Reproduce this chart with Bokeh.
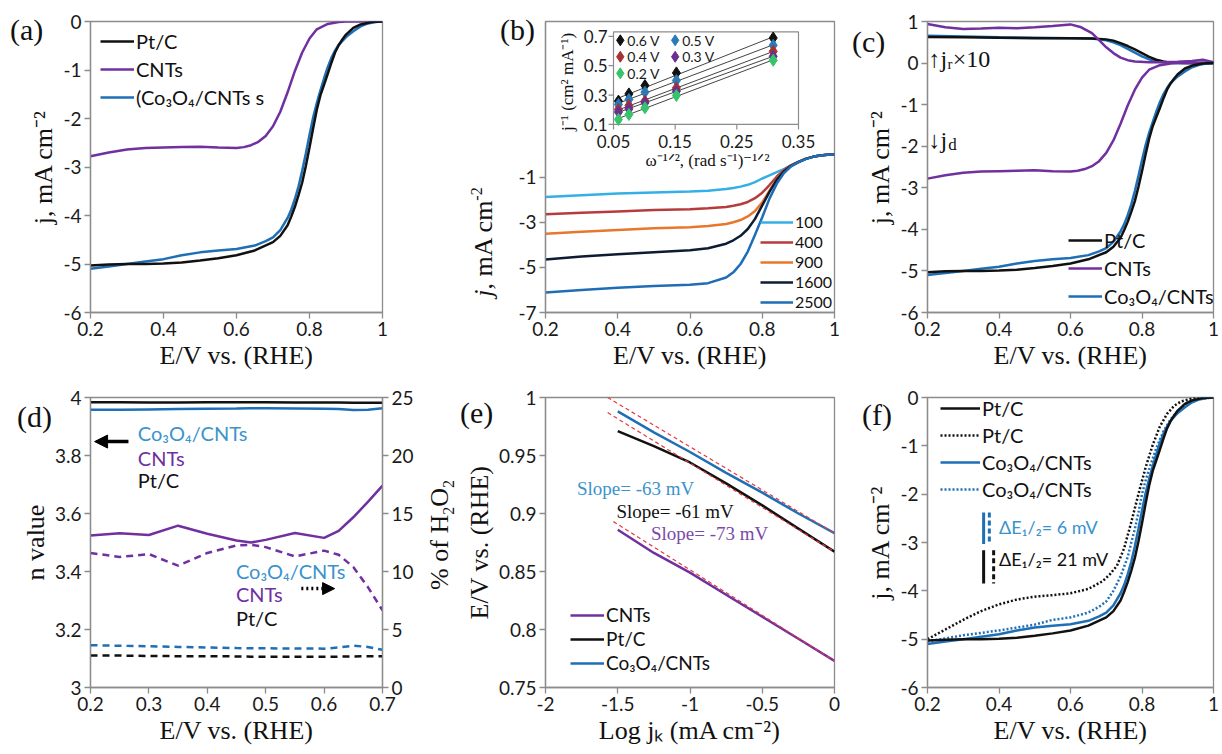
import numpy as np
from bokeh.plotting import figure
from bokeh.models import (Legend, LegendItem, Label, LinearAxis, Range1d, FixedTicker,
                          Arrow, NormalHead, CustomJSTickFormatter, GridBox, Div)
from bokeh.embed import file_html
from bokeh.resources import INLINE
from bokeh.core.properties import value

# ======================= DATA =======================
# (a), (c), (f): disk current density (mA cm-2) vs E (V vs RHE)
E_pt = [0.20, 0.25, 0.30, 0.35, 0.40, 0.45, 0.50, 0.55, 0.60, 0.65, 0.70, 0.72, 0.74, 0.75, 0.76, 0.77,
        0.78, 0.79, 0.80, 0.81, 0.82, 0.83, 0.84, 0.85, 0.86, 0.87, 0.88, 0.89, 0.90, 0.92, 0.94, 0.97, 1.00]
j_pt = [-5.03, -5.01, -5.00, -5.00, -4.99, -4.97, -4.93, -4.88, -4.82, -4.72, -4.55, -4.42, -4.20, -4.02,
        -3.82, -3.58, -3.32, -2.98, -2.60, -2.20, -1.82, -1.52, -1.30, -1.08, -0.85, -0.64, -0.49, -0.37,
        -0.27, -0.13, -0.06, -0.01, 0.00]
E_co = [0.20, 0.25, 0.30, 0.35, 0.40, 0.45, 0.50, 0.55, 0.60, 0.65, 0.68, 0.70, 0.72, 0.74, 0.75, 0.76,
        0.77, 0.78, 0.79, 0.80, 0.81, 0.82, 0.83, 0.84, 0.85, 0.86, 0.87, 0.88, 0.90, 0.92, 0.94, 0.96,
        0.98, 1.00]
j_co = [-5.10, -5.05, -5.00, -4.95, -4.90, -4.82, -4.76, -4.72, -4.69, -4.62, -4.53, -4.45, -4.30, -4.05,
        -3.88, -3.66, -3.40, -3.08, -2.72, -2.34, -1.98, -1.68, -1.42, -1.17, -0.94, -0.75, -0.60, -0.48,
        -0.32, -0.20, -0.10, -0.04, -0.01, 0.00]
E_cnt = [0.20, 0.25, 0.30, 0.35, 0.40, 0.45, 0.50, 0.55, 0.60, 0.62, 0.64, 0.66, 0.68, 0.70, 0.72, 0.74,
         0.76, 0.78, 0.80, 0.82, 0.85, 0.88, 0.90, 0.95, 1.00]
j_cnt = [-2.78, -2.70, -2.64, -2.61, -2.60, -2.59, -2.58, -2.60, -2.61, -2.59, -2.55, -2.48, -2.36, -2.16,
         -1.86, -1.46, -1.02, -0.64, -0.35, -0.16, -0.05, -0.01, 0.00, 0.00, 0.00]

# (c): ring current x10
Er = [0.20, 0.30, 0.40, 0.50, 0.60, 0.66, 0.70, 0.72, 0.74, 0.76, 0.78, 0.80, 0.82, 0.84, 0.86, 0.88, 0.92, 1.00]
jr_pt = [0.63, 0.62, 0.61, 0.60, 0.60, 0.59, 0.57, 0.54, 0.48, 0.41, 0.33, 0.24, 0.15, 0.08, 0.04, 0.01, 0.00, 0.00]
jr_co = [0.66, 0.64, 0.62, 0.61, 0.60, 0.59, 0.55, 0.50, 0.43, 0.34, 0.25, 0.16, 0.09, 0.04, 0.02, 0.01, 0.00, 0.00]
Er_cnt = [0.20, 0.25, 0.30, 0.35, 0.40, 0.45, 0.50, 0.55, 0.60, 0.63, 0.66, 0.68, 0.70, 0.72, 0.74, 0.76,
          0.78, 0.82, 0.86, 0.90, 0.94, 0.97, 1.00]
jr_cnt = [0.94, 0.86, 0.82, 0.83, 0.85, 0.84, 0.86, 0.89, 0.93, 0.86, 0.72, 0.55, 0.38, 0.24, 0.13, 0.07,
          0.04, 0.02, 0.02, 0.03, 0.05, 0.08, 0.02]

# (b): rotating speeds (rpm)
E_rde = [0.20, 0.30, 0.40, 0.50, 0.60, 0.65, 0.70, 0.72, 0.74, 0.76, 0.78, 0.80, 0.82, 0.84, 0.86, 0.88,
         0.90, 0.92, 0.94, 0.96, 0.98, 1.00]
rpm_labels = ["100", "400", "900", "1600", "2500"]
j_100 = [-1.88, -1.80, -1.73, -1.68, -1.64, -1.60, -1.53, -1.48, -1.42, -1.34, -1.22, -1.06, -0.92, -0.78,
         -0.64, -0.47, -0.32, -0.19, -0.10, -0.04, -0.01, 0.00]
j_400 = [-2.64, -2.58, -2.52, -2.46, -2.42, -2.38, -2.32, -2.27, -2.20, -2.10, -1.93, -1.69, -1.35, -0.98,
         -0.68, -0.48, -0.32, -0.19, -0.10, -0.04, -0.01, 0.00]
j_900 = [-3.51, -3.42, -3.34, -3.27, -3.22, -3.17, -3.08, -3.00, -2.90, -2.74, -2.50, -2.12, -1.60, -1.10,
         -0.72, -0.49, -0.32, -0.19, -0.10, -0.04, -0.01, 0.00]
j_1600 = [-4.65, -4.52, -4.42, -4.33, -4.24, -4.15, -3.95, -3.80, -3.60, -3.30, -2.85, -2.25, -1.65, -1.12,
          -0.74, -0.50, -0.33, -0.19, -0.10, -0.04, -0.01, 0.00]
j_2500 = [-6.11, -6.00, -5.90, -5.83, -5.77, -5.70, -5.45, -5.22, -4.85, -4.30, -3.55, -2.78, -1.95, -1.30,
          -0.82, -0.52, -0.34, -0.20, -0.10, -0.04, -0.01, 0.00]

# (b) inset: Koutecky-Levich
w_inv = [0.058, 0.075, 0.101, 0.152, 0.309]
kl_labels = ["0.6 V", "0.5 V", "0.4 V", "0.3 V", "0.2 V"]
kl_06 = [0.259, 0.308, 0.365, 0.451, 0.689]
kl_05 = [0.236, 0.270, 0.320, 0.399, 0.639]
kl_04 = [0.202, 0.229, 0.259, 0.349, 0.598]
kl_03 = [0.184, 0.206, 0.247, 0.326, 0.564]
kl_02 = [0.134, 0.168, 0.213, 0.297, 0.537]
inset_xticks = [0.05, 0.15, 0.25, 0.35]
inset_xtick_labels = ["0.05", "0.15", "0.25", "0.35"]
inset_yticks = [0.1, 0.3, 0.5, 0.7]
inset_ytick_labels = ["0.1", "0.3", "0.5", "0.7"]

# (d): electron transfer number and % H2O2
E_n = [0.20, 0.25, 0.30, 0.35, 0.40, 0.45, 0.475, 0.50, 0.55, 0.60, 0.625, 0.65, 0.675, 0.70]
n_pt = [3.984, 3.984, 3.983, 3.983, 3.984, 3.984, 3.984, 3.984, 3.983, 3.983, 3.983, 3.982, 3.982, 3.982]
n_co = [3.958, 3.958, 3.959, 3.960, 3.961, 3.962, 3.963, 3.963, 3.962, 3.961, 3.960, 3.957, 3.958, 3.963]
n_cnt = [3.524, 3.532, 3.526, 3.558, 3.530, 3.507, 3.500, 3.509, 3.533, 3.516, 3.540, 3.587, 3.640, 3.696]
h2o2_pt = [2.75, 2.75, 2.72, 2.70, 2.70, 2.68, 2.66, 2.66, 2.65, 2.65, 2.66, 2.68, 2.70, 2.70]
h2o2_co = [3.65, 3.60, 3.55, 3.50, 3.45, 3.40, 3.38, 3.38, 3.36, 3.35, 3.45, 3.60, 3.50, 3.25]
h2o2_cnt = [11.6, 11.25, 11.5, 10.5, 11.6, 12.24, 12.3, 12.1, 11.3, 11.8, 11.44, 10.38, 8.66, 6.65]

# (e): Tafel plots
logjk = [-1.5, -1.25, -1.0, -0.75, -0.5, -0.25, 0.0]
taf_co = [0.988, 0.970, 0.953, 0.935, 0.918, 0.900, 0.883]
taf_pt = [0.971, 0.958, 0.944, 0.926, 0.907, 0.887, 0.867]
taf_cnt = [0.886, 0.866, 0.849, 0.830, 0.811, 0.792, 0.773]
fit_x = [-1.57, 0.0]
fit_co = [1.000, 0.883]
fit_pt = [0.987, 0.867]
fit_x_cnt = [-1.53, 0.0]
fit_cnt = [0.893, 0.773]

# (f): after durability test
E_pt_adt = [0.20, 0.25, 0.30, 0.35, 0.40, 0.45, 0.50, 0.55, 0.60, 0.65, 0.69, 0.71, 0.73, 0.75, 0.77, 0.79,
            0.81, 0.83, 0.85, 0.87, 0.89, 0.91, 0.94, 0.97, 1.00]
j_pt_adt = [-5.00, -4.80, -4.60, -4.42, -4.28, -4.18, -4.12, -4.09, -4.05, -3.96, -3.80, -3.66, -3.48, -3.12,
            -2.58, -2.00, -1.45, -0.98, -0.60, -0.34, -0.17, -0.08, -0.02, 0.00, 0.00]
E_co_adt = [0.20, 0.30, 0.40, 0.50, 0.55, 0.60, 0.65, 0.68, 0.70, 0.72, 0.74, 0.76, 0.77, 0.78, 0.79, 0.80,
            0.81, 0.82, 0.84, 0.86, 0.88, 0.90, 0.93, 0.96, 1.00]
j_co_adt = [-5.05, -4.92, -4.82, -4.70, -4.60, -4.55, -4.45, -4.33, -4.22, -4.00, -3.70, -3.30, -3.00, -2.72,
            -2.38, -2.00, -1.72, -1.48, -1.05, -0.70, -0.45, -0.28, -0.12, -0.03, 0.00]

# panel tags (texts)
panel_tags = ["(a)", "(b)", "(c)", "(d)", "(e)", "(f)"]

# ======================= STYLE =======================
SANS = "Lato"
SERIF = "Liberation Serif"
FRAME = "#8c8c8c"
C_PT = "#111111"
C_CNT = "#7030a0"
C_CO = "#1f6fb6"
C_CO_TXT = "#3b93cc"
LW = 2.5
rpm_colors = ["#35b0e6", "#b63b3d", "#e8772b", "#0e1c33", "#1f6db5"]
kl_colors = ["#111111", "#2a7ab8", "#a83232", "#6a2f8f", "#35c46a"]


def style_axis(ax, ticks):
    ax.ticker = FixedTicker(ticks=ticks)
    ax.formatter = CustomJSTickFormatter(code="return (Math.round(tick*1000)/1000).toString();")
    ax.axis_line_color = FRAME
    ax.axis_line_width = 1.3
    ax.major_tick_line_color = FRAME
    ax.major_tick_line_width = 1.3
    ax.major_tick_in = 0
    ax.major_tick_out = 6
    ax.minor_tick_line_color = None
    ax.major_label_text_font = SANS
    ax.major_label_text_font_size = "19px"
    ax.major_label_text_color = "#1a1a1a"
    ax.major_label_standoff = 3
    ax.axis_label_text_font = SERIF
    ax.axis_label_text_font_size = "26px"
    ax.axis_label_text_font_style = "normal"
    ax.axis_label_text_color = "#111111"
    ax.axis_label_standoff = 2


def mkfig(w, h, xr, yr, xt, yt, bl, br, bt, bb, xlab, ylab):
    p = figure(width=w, height=h, x_range=Range1d(*xr), y_range=Range1d(*yr),
               output_backend="svg", toolbar_location=None, title=None,
               min_border_left=bl, min_border_right=br, min_border_top=bt, min_border_bottom=bb)
    p.xgrid.visible = False
    p.ygrid.visible = False
    p.outline_line_color = FRAME
    p.outline_line_width = 1.3
    style_axis(p.xaxis[0], xt)
    style_axis(p.yaxis[0], yt)
    p.xaxis[0].axis_label = xlab
    if ylab:
        p.yaxis[0].axis_label = ylab
    return p


def note(p, x, y, text, color="#111111", size="20px", font=SANS, align="left", angle=0.0):
    p.add_layout(Label(x=x, y=y, text=text, text_color=color, text_font=font, text_font_size=size,
                       text_align=align, text_baseline="middle", angle=angle))


def add_legend(p, pairs, loc, fs="20px", gw=34, spacing=4):
    items = [LegendItem(label=l, renderers=[r]) for l, r in pairs]
    lg = Legend(items=items, location=loc, label_text_font=SANS, label_text_font_size=fs,
                label_text_color="#111111", glyph_width=gw, glyph_height=14, label_height=14,
                label_standoff=2, spacing=spacing, padding=0, margin=0,
                border_line_color=None, background_fill_alpha=0)
    p.add_layout(lg)


XT = [0.2, 0.4, 0.6, 0.8, 1.0]
EX = "E/V vs. (RHE)"
JY = "j, mA cm⁻²"
W1, W2, W3 = 458, 388, 374
H1, H2 = 380, 372

# ---------------- (a) ----------------
pa = mkfig(W1, H1, (0.2, 1.0), (-6, 0), XT, [-6, -5, -4, -3, -2, -1, 0], 90, 76, 20, 67, EX, JY)
ra_cnt = pa.line(E_cnt, j_cnt, color=C_CNT, line_width=LW)
ra_co = pa.line(E_co, j_co, color=C_CO, line_width=LW)
ra_pt = pa.line(E_pt, j_pt, color=C_PT, line_width=LW)
add_legend(pa, [("Pt/C", ra_pt), ("CNTs", ra_cnt), ("(Co₃O₄/CNTs s", ra_co)], (10, 203))

# ---------------- (b) ----------------
pb = mkfig(W2, H1, (0.2, 1.0), (-7, 5.9), XT, [-7, -5, -3, -1], 87, 12, 18, 68, EX, None)
rpm_series = [j_100, j_400, j_900, j_1600, j_2500]
rb = [pb.line(E_rde, js, color=c, line_width=LW) for js, c in zip(rpm_series, rpm_colors)]
add_legend(pb, list(zip(rpm_labels, rb)), (215, 1), fs="16px", gw=33, spacing=1)

# inset (drawn on extra ranges of panel b)
FW_B, FH_B = W2 - 87 - 12, H1 - 18 - 68
IX0_PX, IX1_PX = 68, 253      # frame px of inset x = 0.05 and 0.35
IY0_PX, IY1_PX = 190, 279     # frame px (from bottom) of inset y = 0.1 and 0.7
sx = (0.35 - 0.05) / (IX1_PX - IX0_PX)
sy = (0.7 - 0.1) / (IY1_PX - IY0_PX)
pb.extra_x_ranges = {"ix": Range1d(0.05 - IX0_PX * sx, 0.05 + (FW_B - IX0_PX) * sx)}
pb.extra_y_ranges = {"iy": Range1d(0.1 - IY0_PX * sy, 0.1 + (FH_B - IY0_PX) * sy)}
IR = dict(x_range_name="ix", y_range_name="iy")
pb.quad(left=[0.05], right=[0.35], bottom=[0.1], top=[0.73], fill_color="white",
        line_color=FRAME, line_width=1.2, **IR)
n_xt, n_yt = len(inset_xticks), len(inset_yticks)
pb.segment(x0=inset_xticks, y0=[0.1] * n_xt, x1=inset_xticks, y1=[0.1 - 5 * sy] * n_xt,
           line_color=FRAME, line_width=1.2, **IR)
pb.segment(x0=[0.05] * n_yt, y0=inset_yticks, x1=[0.05 - 5 * sx] * n_yt, y1=inset_yticks,
           line_color=FRAME, line_width=1.2, **IR)
pb.text(x=inset_xticks, y=[0.1] * n_xt, text=inset_xtick_labels, y_offset=17,
        text_font=value(SANS), text_font_size=value("17px"), text_color="#1a1a1a",
        text_align="center", text_baseline="middle", **IR)
pb.text(x=[0.05] * n_yt, y=inset_yticks, text=inset_ytick_labels, x_offset=-6,
        text_font=value(SANS), text_font_size=value("17px"), text_color="#1a1a1a",
        text_align="right", text_baseline="middle", **IR)
pb.text(x=[0.2], y=[0.1], text=["ω⁻¹ᐟ², (rad s⁻¹)⁻¹ᐟ²"], y_offset=36,
        text_font=value(SERIF), text_font_size=value("17px"), text_color="#111111",
        text_align="center", text_baseline="middle", **IR)
pb.text(x=[0.05], y=[0.39], text=["j⁻¹ (cm² mA⁻¹)"], x_offset=-46, angle=np.pi / 2,
        text_font=value(SERIF), text_font_size=value("17px"), text_color="#111111",
        text_align="center", text_baseline="middle", **IR)
kl_series = [kl_06, kl_05, kl_04, kl_03, kl_02]
fx = np.array([0.055, 0.31])
for ys, c in zip(kl_series, kl_colors):
    k, b0 = np.polyfit(w_inv, ys, 1)
    pb.line(fx, k * fx + b0, line_color="#444444", line_width=1, **IR)
for ys, c in zip(kl_series, kl_colors):
    pb.scatter(w_inv, ys, marker="diamond", size=12, fill_color=c, line_color=c, **IR)
inset_leg_x = [0.061, 0.150, 0.061, 0.150, 0.061]
inset_leg_y = [0.673, 0.673, 0.561, 0.561, 0.448]
pb.scatter(inset_leg_x, inset_leg_y, marker="diamond", size=11, fill_color=kl_colors,
           line_color=kl_colors, **IR)
pb.text(x=inset_leg_x, y=inset_leg_y, text=kl_labels, x_offset=7,
        text_font=value(SANS), text_font_size=value("14px"), text_color="#1a1a1a",
        text_align="left", text_baseline="middle", **IR)

# ---------------- (c) ----------------
pc = mkfig(W3, H1, (0.2, 1.0), (-6, 1), XT, [-6, -5, -4, -3, -2, -1, 0, 1], 81, 7, 21, 67, EX, JY)
pc.line(Er, jr_co, color=C_CO, line_width=LW)
pc.line(Er, jr_pt, color=C_PT, line_width=LW)
pc.line(Er_cnt, jr_cnt, color=C_CNT, line_width=LW)
rc_cnt = pc.line(E_cnt, j_cnt, color=C_CNT, line_width=LW)
rc_co = pc.line(E_co, j_co, color=C_CO, line_width=LW)
rc_pt = pc.line(E_pt, j_pt, color=C_PT, line_width=LW)
add_legend(pc, [("Pt/C", rc_pt), ("CNTs", rc_cnt), ("Co₃O₄/CNTs", rc_co)], (141, 4))
note(pc, 0.203, 0.1, "↑jᵣ×10", size="24px", font=SERIF)
note(pc, 0.203, -1.85, "↓j", size="24px", font=SERIF)
note(pc, 0.258, -1.97, "d", size="17px", font=SERIF)

# ---------------- (d) ----------------
pd_ = mkfig(W1, H2, (0.2, 0.7), (3, 4), [0.2, 0.3, 0.4, 0.5, 0.6, 0.7],
            [3, 3.2, 3.4, 3.6, 3.8, 4], 90, 76, 17, 65, EX, "n value")
pd_.extra_y_ranges = {"pct": Range1d(0, 25)}
rax = LinearAxis(y_range_name="pct")
style_axis(rax, [0, 5, 10, 15, 20, 25])
pd_.add_layout(rax, "right")
pd_.line(E_n, n_pt, color=C_PT, line_width=LW)
pd_.line(E_n, n_co, color=C_CO, line_width=LW)
pd_.line(E_n, n_cnt, color=C_CNT, line_width=LW)
pd_.line(E_n, h2o2_pt, color=C_PT, line_width=LW, line_dash="7 5", y_range_name="pct")
pd_.line(E_n, h2o2_co, color=C_CO, line_width=LW, line_dash="7 5", y_range_name="pct")
pd_.line(E_n, h2o2_cnt, color=C_CNT, line_width=LW, line_dash="7 5", y_range_name="pct")
pd_.add_layout(Arrow(end=NormalHead(size=13, fill_color="black", line_color="black"),
                     x_start=0.265, y_start=3.848, x_end=0.207, y_end=3.848,
                     line_width=3.5, line_color="black"))
note(pd_, 0.281, 3.876, "Co₃O₄/CNTs", color=C_CO_TXT)
note(pd_, 0.281, 3.793, "CNTs", color=C_CNT)
note(pd_, 0.281, 3.714, "Pt/C", color="#111111")
pd_.add_layout(Arrow(end=NormalHead(size=12, fill_color="black", line_color="black"),
                     x_start=0.561, y_start=3.341, x_end=0.618, y_end=3.341,
                     line_width=3.5, line_color="black", line_dash="2 3"))
note(pd_, 0.449, 3.403, "Co₃O₄/CNTs", color=C_CO_TXT)
note(pd_, 0.449, 3.324, "CNTs", color=C_CNT)
note(pd_, 0.449, 3.241, "Pt/C", color="#111111")

# ---------------- (e) ----------------
pe = mkfig(W2, H2, (-2, 0), (0.75, 1.0), [-2, -1.5, -1, -0.5, 0],
           [0.75, 0.8, 0.85, 0.9, 0.95, 1.0], 85, 12, 15, 65, "Log jₖ (mA cm⁻²)", EX)
re_cnt = pe.line(logjk, taf_cnt, color=C_CNT, line_width=LW)
re_pt = pe.line(logjk, taf_pt, color=C_PT, line_width=LW)
re_co = pe.line(logjk, taf_co, color=C_CO, line_width=LW)
for fxs, fys in [(fit_x, fit_co), (fit_x, fit_pt), (fit_x_cnt, fit_cnt)]:
    pe.line(fxs, fys, color="#e8383d", line_width=1.2, line_dash="4 3")
add_legend(pe, [("CNTs", re_cnt), ("Pt/C", re_pt), ("Co₃O₄/CNTs", re_co)], (25, 13), fs="19px", spacing=1)
note(pe, -1.782, 0.9218, "Slope= -63 mV", color=C_CO_TXT, font=SERIF, size="19px")
note(pe, -1.509, 0.9019, "Slope= -61 mV", color="#111111", font=SERIF, size="19px")
note(pe, -1.27, 0.8829, "Slope= -73 mV", color="#7a4aa8", font=SERIF, size="19px")

# ---------------- (f) ----------------
pf = mkfig(W3, H2, (0.2, 1.0), (-6, 0), XT, [-6, -5, -4, -3, -2, -1, 0], 81, 7, 16, 65, EX, JY)
rf_ptd = pf.line(E_pt_adt, j_pt_adt, color=C_PT, line_width=LW, line_dash="2 2")
rf_cod = pf.line(E_co_adt, j_co_adt, color=C_CO, line_width=LW, line_dash="2 2")
rf_co = pf.line(E_co, j_co, color=C_CO, line_width=LW)
rf_pt = pf.line(E_pt, j_pt, color=C_PT, line_width=LW)
add_legend(pf, [("Pt/C", rf_pt), ("Pt/C", rf_ptd), ("Co₃O₄/CNTs", rf_co), ("Co₃O₄/CNTs", rf_cod)],
           (13, 186), gw=40, spacing=3)
pf.segment(x0=[0.357], y0=[-2.38], x1=[0.357], y1=[-3.03], line_color=C_CO, line_width=3)
pf.segment(x0=[0.373], y0=[-2.38], x1=[0.373], y1=[-3.03], line_color=C_CO, line_width=3, line_dash="5 3")
pf.segment(x0=[0.357], y0=[-3.16], x1=[0.357], y1=[-3.85], line_color=C_PT, line_width=3)
pf.segment(x0=[0.385], y0=[-3.16], x1=[0.385], y1=[-3.85], line_color=C_PT, line_width=3, line_dash="5 3")
note(pf, 0.40, -2.68, "ΔE₁/₂= 6 mV", color=C_CO_TXT, size="18px")
note(pf, 0.40, -3.335, "ΔE₁/₂= 21 mV", color="#111111", size="18px")

# -------- HTML overlay (page pixel coordinates) for texts outside the plot frames --------
TW, TH = W1 + W2 + W3, H1 + H2
tag_x = [10, 500, 852, 17, 460, 862]
tag_y = [30, 30, 42, 417, 413, 415]
span_base = ("position:absolute;white-space:nowrap;line-height:1;color:#111;"
             "font-family:'Liberation Serif',serif;")
parts = []
for t, x, y in zip(panel_tags, tag_x, tag_y):
    parts.append(f'<span style="{span_base}font-size:30px;left:{x}px;top:{y}px;'
                 f'transform:translate(0,-50%);">{t}</span>')
rot_titles = [("<i>j</i>, mA cm<sup style=\"font-size:16px\">-2</sup>", 483, 242),
              ("% of H<sub style=\"font-size:16px\">2</sub>O<sub style=\"font-size:16px\">2</sub>", 442, 535)]
for t, x, y in rot_titles:
    parts.append(f'<span style="{span_base}font-size:26px;left:{x}px;top:{y}px;'
                 f'transform:translate(-50%,-50%) rotate(-90deg);">{t}</span>')
overlay = Div(text=f'<div style="position:relative;width:{TW}px;height:{TH}px;">' + "".join(parts) + "</div>",
              width=TW, height=TH, margin=0, styles={"pointer-events": "none"})

layout = GridBox(children=[(pa, 0, 0), (pb, 0, 1), (pc, 0, 2),
                           (pd_, 1, 0), (pe, 1, 1), (pf, 1, 2),
                           (overlay, 0, 0, 2, 3)])
open("out.html", "w").write(file_html(layout, INLINE))
